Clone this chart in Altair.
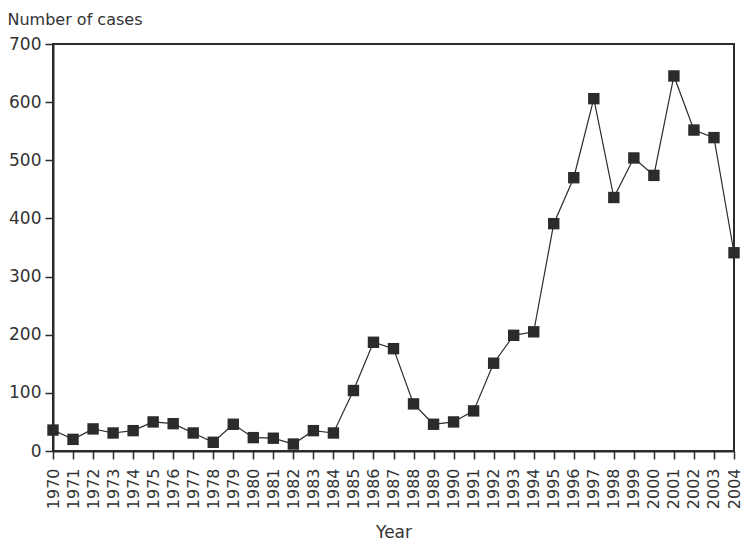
import altair as alt
import pandas as pd

years = list(range(1970, 2005))
cases = [36, 20, 38, 31, 35, 50, 47, 31, 15, 46, 23, 22, 12, 35, 31,
         104, 187, 176, 81, 46, 50, 69, 151, 199, 205,
         391, 470, 606, 436, 504, 474, 645, 552, 539, 341]

df = pd.DataFrame({"Year": [str(y) for y in years], "Cases": cases})

FONT = "DejaVu Sans"
INK = "#2b2b2b"

x = alt.X("Year:O", title="Year",
          scale=alt.Scale(paddingOuter=0, paddingInner=0, padding=0),
          axis=alt.Axis(labelAngle=-90, labelAlign="right", labelBaseline="middle",
                        labelPadding=9, tickSize=8, titlePadding=16,
                        titleFontSize=17))
y = alt.Y("Cases:Q", title="Number of cases",
          scale=alt.Scale(domain=[0, 700], nice=False),
          axis=alt.Axis(values=[0, 100, 200, 300, 400, 500, 600, 700],
                        tickSize=8, labelPadding=4, grid=False, labelFontSize=17,
                        titleAngle=0, titleAlign="left", titleBaseline="alphabetic",
                        titleX=-46, titleY=-20))

line = alt.Chart(df).mark_line(color=INK, strokeWidth=1.2).encode(x=x, y=y)
pts = alt.Chart(df).mark_point(shape="square", filled=True, size=130,
                               color=INK, opacity=1).encode(x=x, y=y)

chart = (line + pts).properties(
    width=681, height=407,
    autosize=alt.AutoSizeParams(type="none"),
    padding={"left": 45, "top": 36, "right": 10, "bottom": 92},
).configure_view(stroke=INK, strokeWidth=2).configure_axis(
    domainColor=INK, domainWidth=2, tickColor=INK, tickWidth=1.5,
    labelFont=FONT, titleFont=FONT, labelFontSize=16, titleFontSize=16,
    labelColor="#333333", titleColor="#333333", titleFontWeight="normal",
    grid=False,
)

chart.save("out.html", embed_options={"renderer": "svg", "actions": False})
